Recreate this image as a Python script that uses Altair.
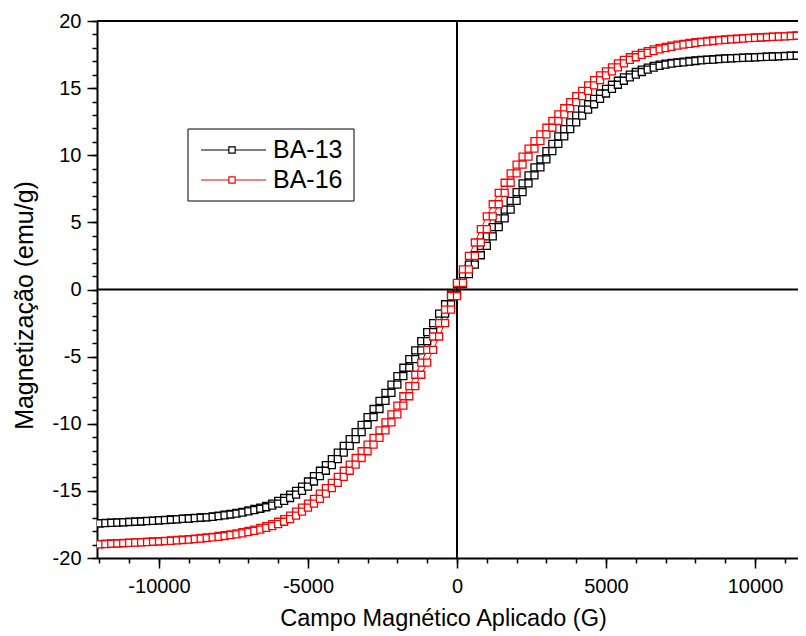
import altair as alt
import pandas as pd

FONT = "Liberation Sans"

# Applied-field steps (G) of the measurement
FIELD = list(range(-12000, 12001, 200))

# BA-13 : ascending branch (field -12000 -> 12000)
BA13_UP = [
    -17.42, -17.40, -17.38, -17.36, -17.34, -17.32, -17.30, -17.28, -17.25, -17.23,
    -17.20, -17.18, -17.15, -17.12, -17.09, -17.06, -17.03, -17.00, -16.97, -16.93,
    -16.88, -16.82, -16.76, -16.70, -16.62, -16.53, -16.44, -16.33, -16.22, -16.10,
    -15.95, -15.75, -15.53, -15.28, -15.00, -14.68, -14.30, -13.90, -13.50, -13.08,
    -12.63, -12.15, -11.65, -11.15, -10.63, -10.08, -9.50, -8.90, -8.30, -7.70,
    -7.08, -6.45, -5.83, -5.18, -4.53, -3.85, -3.18, -2.50, -1.80, -1.10,
    -0.38,
    0.40, 1.15, 1.85, 2.55, 3.25, 3.95, 4.65, 5.30, 5.95, 6.60,
    7.25, 7.90, 8.50, 9.10, 9.70, 10.30, 10.85, 11.40, 11.95, 12.45,
    12.95, 13.40, 13.80, 14.20, 14.60, 14.95, 15.25, 15.55, 15.80, 16.00,
    16.20, 16.38, 16.52, 16.65, 16.75, 16.82, 16.88, 16.92, 16.98, 17.02,
    17.07, 17.10, 17.13, 17.16, 17.19, 17.21, 17.23, 17.25, 17.27, 17.29,
    17.31, 17.33, 17.35, 17.37, 17.39, 17.40, 17.41, 17.42, 17.43, 17.44,
]
# BA-13 : descending branch (values listed on the same field grid)
BA13_DOWN = [
    -17.41, -17.39, -17.37, -17.35, -17.33, -17.31, -17.29, -17.26, -17.24, -17.21,
    -17.19, -17.16, -17.13, -17.10, -17.07, -17.04, -17.01, -16.98, -16.95, -16.90,
    -16.85, -16.78, -16.72, -16.64, -16.56, -16.45, -16.35, -16.25, -16.12, -15.95,
    -15.75, -15.53, -15.28, -15.00, -14.68, -14.30, -13.90, -13.50, -13.08, -12.63,
    -12.15, -11.65, -11.15, -10.63, -10.08, -9.50, -8.90, -8.30, -7.70, -7.08,
    -6.45, -5.83, -5.18, -4.53, -3.85, -3.18, -2.50, -1.80, -1.10, -0.38,
    0.40,
    1.15, 1.85, 2.55, 3.25, 3.95, 4.65, 5.30, 5.95, 6.60, 7.25,
    7.90, 8.50, 9.10, 9.70, 10.30, 10.85, 11.40, 11.95, 12.45, 12.95,
    13.40, 13.80, 14.20, 14.60, 14.95, 15.25, 15.55, 15.80, 16.00, 16.20,
    16.38, 16.52, 16.65, 16.75, 16.82, 16.88, 16.92, 16.98, 17.02, 17.07,
    17.10, 17.13, 17.16, 17.19, 17.21, 17.23, 17.25, 17.27, 17.29, 17.31,
    17.33, 17.35, 17.37, 17.39, 17.40, 17.41, 17.42, 17.43, 17.44, 17.45,
]
# BA-16 : ascending branch
BA16_UP = [
    -18.98, -18.96, -18.94, -18.92, -18.90, -18.88, -18.86, -18.84, -18.82, -18.79,
    -18.77, -18.75, -18.72, -18.69, -18.66, -18.63, -18.59, -18.55, -18.51, -18.47,
    -18.42, -18.36, -18.30, -18.24, -18.16, -18.08, -17.98, -17.88, -17.76, -17.63,
    -17.48, -17.30, -17.10, -16.85, -16.55, -16.25, -15.95, -15.60, -15.20, -14.80,
    -14.40, -13.95, -13.50, -13.05, -12.55, -12.05, -11.55, -11.05, -10.50, -9.90,
    -9.30, -8.65, -7.95, -7.20, -6.35, -5.45, -4.50, -3.50, -2.50, -1.50,
    -0.50,
    0.50, 1.50, 2.50, 3.50, 4.50, 5.45, 6.35, 7.20, 7.95, 8.65,
    9.30, 9.90, 10.50, 11.05, 11.55, 12.05, 12.55, 13.05, 13.50, 13.95,
    14.40, 14.80, 15.20, 15.60, 15.95, 16.25, 16.55, 16.85, 17.10, 17.30,
    17.48, 17.63, 17.76, 17.88, 17.98, 18.08, 18.16, 18.24, 18.30, 18.36,
    18.42, 18.47, 18.51, 18.55, 18.59, 18.63, 18.66, 18.69, 18.72, 18.75,
    18.77, 18.79, 18.82, 18.84, 18.86, 18.88, 18.90, 18.92, 18.94, 18.96,
]
# BA-16 : descending branch
BA16_DOWN = [
    -18.96, -18.94, -18.92, -18.90, -18.88, -18.86, -18.84, -18.82, -18.79, -18.77,
    -18.75, -18.72, -18.69, -18.66, -18.63, -18.59, -18.55, -18.51, -18.47, -18.42,
    -18.36, -18.30, -18.24, -18.16, -18.08, -17.98, -17.88, -17.76, -17.63, -17.48,
    -17.30, -17.10, -16.85, -16.55, -16.25, -15.95, -15.60, -15.20, -14.80, -14.40,
    -13.95, -13.50, -13.05, -12.55, -12.05, -11.55, -11.05, -10.50, -9.90, -9.30,
    -8.65, -7.95, -7.20, -6.35, -5.45, -4.50, -3.50, -2.50, -1.50, -0.50,
    0.50,
    1.50, 2.50, 3.50, 4.50, 5.45, 6.35, 7.20, 7.95, 8.65, 9.30,
    9.90, 10.50, 11.05, 11.55, 12.05, 12.55, 13.05, 13.50, 13.95, 14.40,
    14.80, 15.20, 15.60, 15.95, 16.25, 16.55, 16.85, 17.10, 17.30, 17.48,
    17.63, 17.76, 17.88, 17.98, 18.08, 18.16, 18.24, 18.30, 18.36, 18.42,
    18.47, 18.51, 18.55, 18.59, 18.63, 18.66, 18.69, 18.72, 18.75, 18.77,
    18.79, 18.82, 18.84, 18.86, 18.88, 18.90, 18.92, 18.94, 18.96, 18.98,
]

SERIES = ["BA-13", "BA-16"]
COLORS = ["#000000", "#ff0000"]

X_MAJOR = [-10000, -5000, 0, 5000, 10000]
X_MINOR = list(range(-12000, 11001, 1000))
Y_MAJOR = [-20, -15, -10, -5, 0, 5, 10, 15, 20]
Y_MINOR = list(range(-20, 21, 1))

rows = []
for name, up, down in [("BA-13", BA13_UP, BA13_DOWN), ("BA-16", BA16_UP, BA16_DOWN)]:
    assert len(up) == len(FIELD) and len(down) == len(FIELD)
    k = 0
    for i in range(len(FIELD) - 1, -1, -1):
        rows.append({"series": name, "H": FIELD[i], "M": down[i], "order": k})
        k += 1
    for i in range(len(FIELD)):
        rows.append({"series": name, "H": FIELD[i], "M": up[i], "order": k})
        k += 1
df = pd.DataFrame(rows)

W, H = 701, 537
xs = alt.Scale(domain=[-12080, 11443], nice=False, zero=False)
ys = alt.Scale(domain=[-20, 20], nice=False, zero=False)
cs = alt.Scale(domain=SERIES, range=COLORS)

x_major = alt.Axis(
    orient="bottom", values=X_MAJOR, labelExpr="'' + datum.value", grid=False,
    tickSize=10, tickWidth=1.5, tickColor="black",
    domainWidth=2, domainColor="black",
    labelFont=FONT, labelFontSize=20, labelColor="black", labelPadding=8,
    title="Campo Magnético Aplicado (G)", titleFont=FONT, titleFontSize=23.5,
    titleFontWeight="normal", titleColor="black",
    titleX=346, titleY=60, titleAlign="center", titleBaseline="middle",
)
x_minor = alt.Axis(
    orient="bottom", values=X_MINOR, grid=False, labels=False, domain=False,
    tickSize=5, tickWidth=1.5, tickColor="black", title="",
)
y_major = alt.Axis(
    orient="left", values=Y_MAJOR, labelExpr="'' + datum.value", grid=False,
    tickSize=10, tickWidth=1.5, tickColor="black",
    domainWidth=2, domainColor="black",
    labelFont=FONT, labelFontSize=20, labelColor="black", labelPadding=6,
    title="Magnetização (emu/g)", titleFont=FONT, titleFontSize=25,
    titleFontWeight="normal", titleColor="black",
    titleX=-73, titleY=284, titleAlign="center", titleBaseline="middle", titleAngle=270,
)
y_minor = alt.Axis(
    orient="left", values=Y_MINOR, grid=False, labels=False, domain=False,
    tickSize=5, tickWidth=1.5, tickColor="black", title="",
)

minor_layer = alt.Chart(df).mark_point(opacity=0).encode(
    x=alt.X("H:Q", scale=xs, axis=x_minor),
    y=alt.Y("M:Q", scale=ys, axis=y_minor),
)

zero_df = pd.DataFrame({"v": [0]})
top_df = pd.DataFrame({"v": [20]})

vzero = alt.Chart(zero_df).mark_rule(color="black", strokeWidth=2).encode(
    x=alt.X("v:Q", scale=xs, axis=x_major)
)
hzero = alt.Chart(zero_df).mark_rule(color="black", strokeWidth=2).encode(
    y=alt.Y("v:Q", scale=ys, axis=y_major)
)
top_line = alt.Chart(top_df).mark_rule(color="black", strokeWidth=2).encode(
    y=alt.Y("v:Q", scale=ys, axis=None)
)

lines = alt.Chart(df).mark_line(strokeWidth=1, clip=True).encode(
    x=alt.X("H:Q", scale=xs, axis=None),
    y=alt.Y("M:Q", scale=ys, axis=None),
    color=alt.Color("series:N", scale=cs, legend=None),
    detail="series:N",
    order="order:Q",
)
points = alt.Chart(df).mark_point(
    shape="square", filled=True, fill="white", size=49, strokeWidth=1.3,
    opacity=1, clip=True,
).encode(
    x=alt.X("H:Q", scale=xs, axis=None),
    y=alt.Y("M:Q", scale=ys, axis=None),
    stroke=alt.Stroke("series:N", scale=cs, legend=None),
)

# legend (box + line/symbol samples + labels)
box_df = pd.DataFrame({"b": [1]})
legend_box = alt.Chart(box_df).mark_rect(fill="white", stroke="black", strokeWidth=1).encode(
    x=alt.value(91), x2=alt.value(257), y=alt.value(108), y2=alt.value(180)
)
legend_layers = [legend_box]
for name, col, ypix in [("BA-13", COLORS[0], 129), ("BA-16", COLORS[1], 159)]:
    ldf = pd.DataFrame({"label": [name]})
    legend_layers.append(
        alt.Chart(ldf).mark_rule(color=col, strokeWidth=1).encode(
            x=alt.value(104), x2=alt.value(169), y=alt.value(ypix)
        )
    )
    legend_layers.append(
        alt.Chart(ldf).mark_point(shape="square", filled=True, fill="white", stroke=col,
                                  size=40, strokeWidth=1.2, opacity=1).encode(
            x=alt.value(135), y=alt.value(ypix)
        )
    )
    legend_layers.append(
        alt.Chart(ldf).mark_text(align="left", baseline="middle", font=FONT, fontSize=25,
                                 color="black").encode(
            x=alt.value(176), y=alt.value(ypix), text="label:N"
        )
    )

chart = alt.layer(
    minor_layer, vzero, hzero, top_line, lines, points, *legend_layers
).resolve_axis(
    x="independent", y="independent"
).properties(
    width=W, height=H,
    padding={"left": 89, "top": 13, "right": 0, "bottom": 74},
    autosize=alt.AutoSizeParams(type="none"),
    background="white",
).configure_view(strokeWidth=0)

chart.save("out.html", embed_options={"renderer": "svg", "actions": False})
